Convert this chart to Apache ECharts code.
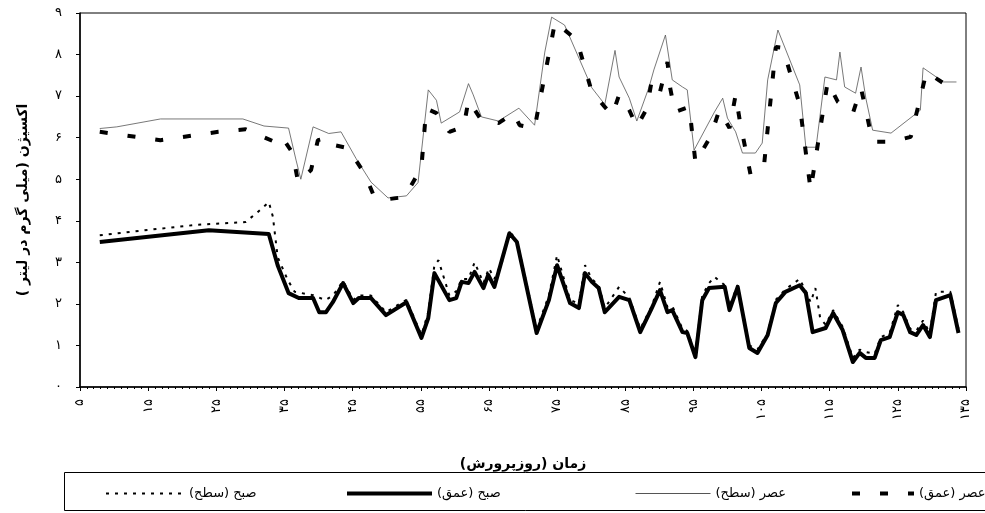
<!DOCTYPE html>
<html>
<head>
<meta charset="utf-8">
<script src="https://cdn.jsdelivr.net/npm/echarts@6/dist/echarts.min.js"></script>
<style>
html,body{margin:0;padding:0;background:#fff;}
#main{width:985px;height:513px;}
</style>
</head>
<body>
<div id="main"></div>
<script>
var fontF = 'DejaVu Sans';
var xName = 'زمان (روزپرورش)';
var yName = 'اکسیژن (میلی گرم در لیتر )';
var names = ['صبح (سطح)', 'صبح (عمق)', 'عصر (سطح)', 'عصر (عمق)'];

// [روز, اکسیژن]
var eveDeep = [[7.9,6.14],[16.8,5.94],[25.3,6.14],[29.3,6.2],[34.0,5.87],[34.7,6.0],[36.2,5.63],[37.0,4.93],
	[38.9,5.22],[39.9,5.94],[41.5,6.0],[42.3,5.82],[44.3,5.75],[46.7,5.15],[48.2,4.57],[50.2,4.52],[52.6,4.57],
	[54.3,5.05],[55.1,5.29],[55.8,6.7],[57.3,6.59],[59.2,6.14],[61.3,6.26],[62.0,6.9],[63.9,6.42],[66.4,6.35],
	[68.6,6.59],[69.5,6.3],[71.7,6.23],[74.7,8.78],[77.9,8.35],[80.1,7.1],[82.0,6.74],[83.1,6.54],[84.1,7.03],
	[85.6,6.66],[86.7,6.26],[88.2,6.71],[88.9,7.39],[90.1,7.1],[91.2,7.82],[91.6,7.19],[92.3,6.62],[94.4,6.74],
	[95.3,5.41],[97.5,6.02],[98.8,6.66],[100.3,6.23],[101.2,7.03],[101.8,6.42],[103.4,5.1],[105.4,5.39],
	[107.1,8.18],[108.1,8.16],[110.6,6.79],[112.2,4.74],[114.7,7.34],[116.2,6.86],[118.4,6.59],[119.6,7.19],
	[121.3,5.9],[124.0,5.9],[126.9,6.02],[129.2,7.58],[131.7,7.31],[133.6,7.34]];

var eveSurf = [[7.9,6.22],[10.4,6.26],[16.8,6.45],[28.9,6.45],[32.0,6.28],[35.6,6.23],[36.7,5.46],[37.4,5.0],
	[39.2,6.26],[41.5,6.1],[43.3,6.14],[45.5,5.5],[47.7,4.93],[50.2,4.55],[52.9,4.6],[54.6,4.92],[56.1,7.15],
	[57.3,6.9],[58.0,6.35],[60.7,6.62],[62.0,7.3],[62.7,7.03],[63.9,6.5],[66.4,6.4],[69.4,6.71],[71.7,6.3],
	[73.2,8.06],[74.2,8.9],[76.1,8.71],[80.1,7.2],[82.0,6.8],[83.5,8.1],[84.1,7.46],[85.6,6.95],[86.7,6.4],
	[88.5,7.22],[89.2,7.63],[90.9,8.47],[91.9,7.39],[93.4,7.22],[94.1,7.15],[95.1,5.7],[98.1,6.62],[99.3,6.95],
	[100.0,6.47],[101.2,6.14],[102.2,5.63],[104.1,5.63],[105.1,5.87],[105.9,7.39],[107.4,8.59],[110.6,7.27],
	[111.5,5.77],[113.0,5.77],[114.3,7.46],[116.0,7.39],[116.5,8.06],[117.2,7.22],[118.8,7.07],[119.6,7.7],
	[120.3,6.95],[121.3,6.18],[124.0,6.11],[128.3,6.66],[128.7,7.68],[131.7,7.34],[133.6,7.34]];

var mornDeep = [[7.9,3.49],[23.9,3.77],[32.7,3.68],[34.0,2.93],[35.6,2.26],[37.1,2.14],[39.2,2.14],[40.1,1.8],
	[41.1,1.8],[42.1,2.04],[43.6,2.5],[45.1,2.02],[45.9,2.14],[47.7,2.14],[49.9,1.73],[52.9,2.04],[55.1,1.18],
	[56.1,1.66],[57.0,2.74],[59.2,2.09],[60.2,2.14],[61.0,2.53],[62.0,2.5],[62.9,2.77],[64.2,2.38],[64.9,2.7],
	[65.8,2.41],[68.0,3.7],[69.1,3.49],[72.0,1.3],[73.8,2.09],[75.0,2.93],[76.9,2.02],[78.2,1.9],[79.1,2.74],
	[80.1,2.53],[81.1,2.38],[82.0,1.8],[84.1,2.17],[85.6,2.09],[87.2,1.32],[88.9,1.9],[90.1,2.33],[91.2,1.8],
	[91.9,1.85],[93.4,1.32],[94.1,1.3],[95.3,0.72],[96.3,2.09],[97.3,2.38],[99.6,2.41],[100.3,1.85],[101.5,2.41],
	[103.2,0.94],[104.4,0.82],[105.9,1.25],[107.1,2.02],[108.5,2.29],[110.6,2.45],[111.5,2.26],[112.5,1.32],
	[114.4,1.42],[115.5,1.78],[116.9,1.37],[118.4,0.6],[119.4,0.82],[120.3,0.7],[121.6,0.7],[122.5,1.13],
	[123.8,1.2],[125.0,1.8],[125.8,1.73],[126.8,1.32],[127.7,1.25],[128.7,1.49],[129.7,1.2],[130.6,2.09],
	[132.7,2.21],[133.9,1.3]];

var mornSurf = [[7.9,3.65],[15.0,3.78],[22.0,3.9],[29.3,3.97],[31.0,4.2],[32.7,4.45],[33.3,4.1],[34.0,3.13],
	[35.5,2.57],[36.5,2.29],[39.2,2.21],[41.0,2.09],[42.1,2.2],[43.6,2.55],[45.1,2.1],[45.9,2.2],[47.7,2.2],
	[49.9,1.8],[52.9,2.1],[55.1,1.25],[56.1,1.8],[57.0,2.93],[57.6,3.05],[59.2,2.2],[60.2,2.3],[61.0,2.6],
	[62.0,2.6],[62.9,3.0],[64.2,2.5],[65.0,2.86],[65.8,2.6],[67.0,3.05],[68.0,3.75],[69.1,3.53],[72.0,1.4],
	[73.8,2.2],[75.0,3.17],[76.9,2.1],[78.2,2.0],[79.1,2.93],[80.1,2.6],[81.1,2.45],[82.0,1.9],[84.1,2.41],
	[85.6,2.15],[87.2,1.4],[88.9,1.95],[90.1,2.53],[91.2,1.92],[91.9,1.95],[93.4,1.4],[94.1,1.35],[95.3,0.8],
	[96.3,2.2],[97.3,2.5],[98.1,2.65],[99.6,2.45],[100.3,1.95],[101.5,2.45],[103.2,1.0],[104.4,0.9],[105.9,1.3],
	[107.1,2.1],[108.5,2.35],[110.6,2.6],[111.5,2.3],[112.2,2.04],[112.9,2.38],[113.3,1.97],[113.6,1.66],
	[114.4,1.5],[115.5,1.85],[116.9,1.45],[118.4,0.7],[119.4,0.9],[120.3,0.84],[121.6,0.8],[122.5,1.2],
	[123.8,1.3],[125.0,1.97],[125.8,1.8],[126.8,1.4],[127.7,1.35],[128.7,1.6],[129.7,1.3],[130.6,2.29],
	[132.7,2.29],[133.9,1.4]];

//اعداد فارسی
function faNum(n){
	return String(n).replace(/\d/g, function(c){ return '۰۱۲۳۴۵۶۷۸۹'.charAt(+c); });
}

function legendAt(name, left, w, lw){
	return {
		data: [name], left: left, top: 482, itemWidth: w, itemHeight: 12, itemGap: 0,
		itemStyle: {opacity: 0},
		lineStyle: {width: lw},
		textStyle: {fontFamily: fontF, fontSize: 13, color: '#000'}
	};
}

var myChart = echarts.init(document.getElementById('main'));
var option = {
	backgroundColor: '#fff',
	animation: false,
	color: ['#000'],
	textStyle: {fontFamily: fontF},
	grid: {left: 80, right: 19, top: 13, bottom: 126, show: true, borderColor: '#000', borderWidth: 1},
	graphic: [{
		type: 'rect', left: 62, top: 470,
		shape: {width: 922, height: 38},
		style: {fill: 'none', stroke: '#000', lineWidth: 1}
	}],
	legend: [
		legendAt(names[0], 100, 78, 2),
		legendAt(names[1], 340, 85, 4),
		legendAt(names[2], 630, 75, 1),
		legendAt(names[3], 845, 62, 4)
	],
	xAxis: {
		type: 'value', min: 5, max: 135, interval: 10,
		name: xName, nameLocation: 'middle', nameGap: 70,
		nameTextStyle: {fontFamily: fontF, fontSize: 14, fontWeight: 'bold', color: '#000'},
		axisLine: {lineStyle: {color: '#000', width: 1.5}},
		axisTick: {show: true, length: 4, lineStyle: {color: '#000'}},
		minorTick: {show: true, splitNumber: 10, length: 2, lineStyle: {color: '#000'}},
		splitLine: {show: false},
		axisLabel: {rotate: 90, margin: 12, fontSize: 13, color: '#000', formatter: faNum}
	},
	yAxis: {
		type: 'value', min: 0, max: 9, interval: 1,
		name: yName, nameLocation: 'middle', nameGap: 50, nameRotate: 90,
		nameTextStyle: {fontFamily: fontF, fontSize: 14, fontWeight: 'bold', color: '#000'},
		axisLine: {show: true, lineStyle: {color: '#000', width: 1.5}},
		axisTick: {show: true, length: 4, lineStyle: {color: '#000'}},
		splitLine: {show: false},
		axisLabel: {margin: 18, fontSize: 13, color: '#000', formatter: faNum}
	},
	series: [
		{name: names[2], type: 'line', data: eveSurf, symbol: 'none', z: 2,
			itemStyle: {color: '#000'}, lineStyle: {color: '#555', width: 0.8}},
		{name: names[3], type: 'line', data: eveDeep, symbol: 'none', z: 3,
			itemStyle: {color: '#000'}, lineStyle: {color: '#000', width: 4, type: [8, 20], cap: 'butt'}},
		{name: names[0], type: 'line', data: mornSurf, symbol: 'none', z: 2,
			itemStyle: {color: '#000'}, lineStyle: {color: '#000', width: 2, type: [3, 6]}},
		{name: names[1], type: 'line', data: mornDeep, symbol: 'none', z: 4,
			itemStyle: {color: '#000'}, lineStyle: {color: '#000', width: 4, join: 'round'}}
	]
};
myChart.setOption(option);
</script>
</body>
</html>
